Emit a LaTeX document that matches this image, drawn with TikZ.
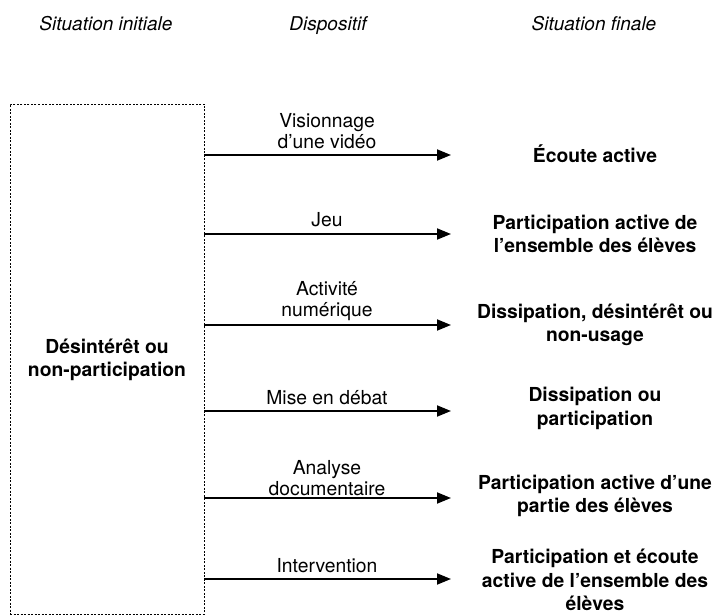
\documentclass[tikz,border=0pt]{standalone}
\usepackage{fontspec}
\setmainfont{TeX Gyre Heros}
\usetikzlibrary{arrows.meta}
\begin{document}
\begin{tikzpicture}[x=1pt,y=-1pt,
  hdr/.style={font=\fontsize{19}{20}\selectfont\itshape, inner sep=0pt, anchor=base},
  lbl/.style={font=\fontsize{19.3}{21}\selectfont, align=center, inner sep=0pt},
  res/.style={font=\fontsize{19.3}{23.3}\selectfont\bfseries, align=center, inner sep=0pt},
  arr/.style={line width=1.8pt, -{Triangle[length=14pt,width=11pt]}},
  frame/.style={draw, line width=0.9pt, dash pattern=on 2pt off 1.5pt, inner sep=0pt}]
\useasboundingbox (0,0) rectangle (716,615);

% headers
\node[hdr] (h1) at (106,31) {Situation initiale};
\node[hdr] (h2) at (328,31) {Dispositif};
\node[hdr] (h3) at (594,31) {Situation finale};

% initial situation box
\node[frame, minimum width=194pt, minimum height=510pt] (box) at (107,359) {};
\node[res] (init) at (107,360) {Désintérêt ou\\non-participation};

% arrow end points
\coordinate (e1) at (451,155);
\coordinate (e2) at (451,234);
\coordinate (e3) at (451,325);
\coordinate (e4) at (451,411);
\coordinate (e5) at (451,498);
\coordinate (e6) at (451,579);

\draw[arr] (box.east |- e1) -- (e1);
\draw[arr] (box.east |- e2) -- (e2);
\draw[arr] (box.east |- e3) -- (e3);
\draw[arr] (box.east |- e4) -- (e4);
\draw[arr] (box.east |- e5) -- (e5);
\draw[arr] (box.east |- e6) -- (e6);

% labels of the devices
\node[lbl] (l1) at (327,131) {Visionnage\\d’une vidéo};
\node[lbl, anchor=base] (l2) at (327,227) {Jeu};
\node[lbl] (l3) at (327,301) {Activité\\numérique};
\node[lbl, anchor=base] (l4) at (327,404) {Mise en débat};
\node[lbl] (l5) at (327,478) {Analyse\\documentaire};
\node[lbl, anchor=base] (l6) at (327,572) {Intervention};

% final situations
\node[res, anchor=base] (r1) at (595,163) {Écoute active};
\node[res] (r2) at (595,234) {Participation active de\\l’ensemble des élèves};
\node[res] (r3) at (595,324.5) {Dissipation, désintérêt ou\\non-usage};
\node[res] (r4) at (595,408.5) {Dissipation ou\\participation};
\node[res] (r5) at (595,496) {Participation active d’une\\partie des élèves};
\node[res] (r6) at (595,580) {Participation et écoute\\active de l’ensemble des\\élèves};
\end{tikzpicture}
\end{document}
